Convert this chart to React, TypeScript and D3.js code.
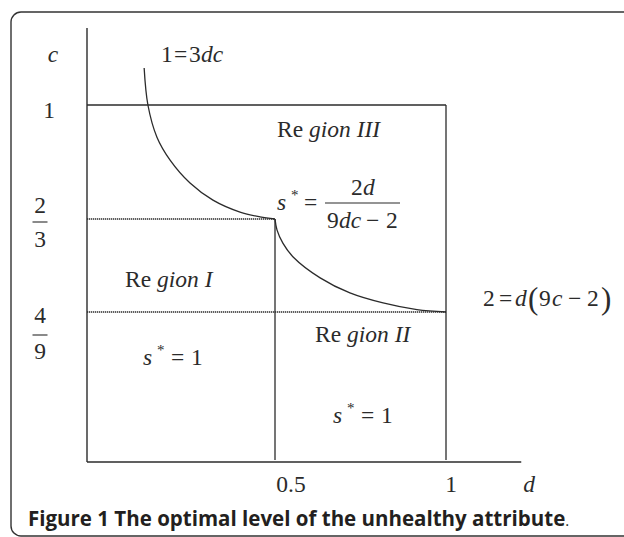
import React, { useRef, useEffect } from "react";
import * as d3 from "d3";

// axis break points (schematic, not to scale)
const dBreaks = [0, 0.5, 1];
const cBreaks = [0, 4 / 9, 2 / 3, 1];
const dMax = 1.22;
const cMax = 1.225;

const xTickLabels = [
  { value: 0.5, label: "0.5" },
  { value: 1, label: "1" },
];

const yTickLabels = [
  { value: 1, num: "1", den: "" },
  { value: 2 / 3, num: "2", den: "3" },
  { value: 4 / 9, num: "4", den: "9" },
];

// 1 = 3dc boundary
const curveUpper = [
  { d: 0.152, c: 1.108 },
  { d: 0.162, c: 1.0 },
  { d: 0.186, c: 0.906 },
  { d: 0.221, c: 0.839 },
  { d: 0.274, c: 0.772 },
  { d: 0.335, c: 0.722 },
  { d: 0.407, c: 0.687 },
  { d: 0.46, c: 0.673 },
  { d: 0.5, c: 0.6667 },
];

// 2 = d(9c - 2) boundary
const curveLower = [
  { d: 0.5, c: 0.6667 },
  { d: 0.506, c: 0.64 },
  { d: 0.523, c: 0.609 },
  { d: 0.553, c: 0.576 },
  { d: 0.632, c: 0.526 },
  { d: 0.719, c: 0.49 },
  { d: 0.816, c: 0.466 },
  { d: 0.915, c: 0.45 },
  { d: 1.0, c: 0.4444 },
];

const ink = "#2b2b2b";
const serif = "'Liberation Serif', 'Times New Roman', serif";
const fs = 23.5;

const App = () => {
  const ref = useRef<SVGSVGElement>(null);

  useEffect(() => {
    const svg = d3.select(ref.current);
    svg.selectAll("*").remove();

    const x = d3.scaleLinear().domain(dBreaks).range([87, 275, 446]);
    const y = d3.scaleLinear().domain(cBreaks).range([462, 312, 219, 105]);

    // frame (right side runs off the picture)
    svg.append("rect")
      .attr("x", 11).attr("y", 12)
      .attr("width", 700).attr("height", 524)
      .attr("rx", 10)
      .attr("fill", "white")
      .attr("stroke", "#333")
      .attr("stroke-width", 1.4);

    const g = svg.append("g").attr("stroke", ink).attr("fill", "none");

    // axes
    g.append("line")
      .attr("x1", x(0)).attr("x2", x(0))
      .attr("y1", y(0)).attr("y2", y(cMax))
      .attr("stroke-width", 1.4);
    g.append("line")
      .attr("x1", x(0)).attr("x2", x(dMax))
      .attr("y1", y(0)).attr("y2", y(0))
      .attr("stroke-width", 1.4);

    // c = 1 and d = 1 box edges
    g.append("line")
      .attr("x1", x(0)).attr("x2", x(1))
      .attr("y1", y(1)).attr("y2", y(1))
      .attr("stroke-width", 1.3);
    g.append("line")
      .attr("x1", x(1)).attr("x2", x(1))
      .attr("y1", y(1)).attr("y2", y(0) - 2)
      .attr("stroke-width", 1.3);
    g.append("line")
      .attr("x1", x(0.5)).attr("x2", x(0.5))
      .attr("y1", y(2 / 3)).attr("y2", y(0) - 2)
      .attr("stroke-width", 1.3);

    // dotted levels
    g.append("line")
      .attr("x1", x(0)).attr("x2", x(0.5))
      .attr("y1", y(2 / 3)).attr("y2", y(2 / 3))
      .attr("stroke-width", 1.7)
      .attr("stroke-dasharray", "1.3 0.7");
    g.append("line")
      .attr("x1", x(0)).attr("x2", x(1))
      .attr("y1", y(4 / 9)).attr("y2", y(4 / 9))
      .attr("stroke-width", 1.7)
      .attr("stroke-dasharray", "1.3 0.7");

    const line = d3.line<{ d: number; c: number }>()
      .x(p => x(p.d))
      .y(p => y(p.c))
      .curve(d3.curveCatmullRom);

    [curveUpper, curveLower].forEach(pts => {
      g.append("path")
        .attr("d", line(pts))
        .attr("stroke-width", 1.3);
    });

    const t = svg.append("g")
      .attr("font-family", serif)
      .attr("font-size", fs)
      .attr("fill", ink);

    // x tick labels
    t.selectAll("text.xt")
      .data(xTickLabels)
      .join("text")
      .attr("class", "xt")
      .attr("x", d => x(d.value) + (d.value === 0.5 ? 16 : 5))
      .attr("y", 492)
      .attr("text-anchor", "middle")
      .text(d => d.label);

    // y tick labels (numerator baseline, bar, denominator baseline offsets)
    const yOff: Record<string, number[]> = {
      "1": [13, 0, 0],
      "2": [-6, 3, 28],
      "4": [11, 23, 47],
    };
    yTickLabels.forEach(tk => {
      const cy = y(tk.value);
      const [n, b, dn] = yOff[tk.num];
      const cx = tk.den ? 40 : 49;
      t.append("text")
        .attr("x", cx).attr("y", cy + n)
        .attr("text-anchor", "middle")
        .text(tk.num);
      if (tk.den) {
        t.append("line")
          .attr("x1", cx - 7.5).attr("x2", cx + 7.5)
          .attr("y1", cy + b).attr("y2", cy + b)
          .attr("stroke", ink).attr("stroke-width", 1.1);
        t.append("text")
          .attr("x", cx).attr("y", cy + dn)
          .attr("text-anchor", "middle")
          .text(tk.den);
      }
    });

    // axis names
    t.append("text").attr("x", 53).attr("y", 62)
      .attr("text-anchor", "middle").attr("font-style", "italic").text("c");
    t.append("text").attr("x", 529).attr("y", 492)
      .attr("text-anchor", "middle").attr("font-style", "italic").text("d");

    // helper: a run of glyphs with absolute x positions
    const run = (py: number, parts: [number, string, boolean?, number?, number?][]) => {
      const el = t.append("text").attr("y", py);
      parts.forEach(([px, s, it, size, dy]) => {
        const sp = el.append("tspan").attr("x", px).attr("y", py + (dy || 0)).text(s);
        if (it) sp.attr("font-style", "italic");
        if (size) sp.attr("font-size", size);
      });
    };

    // 1 = 3dc
    run(62, [[161, "1"], [174, "="], [189, "3"], [201, "dc", true]]);

    // region labels
    const region = (px: number, py: number, num: string) => {
      const r = t.append("text").attr("x", px).attr("y", py);
      r.append("tspan").text("Re ");
      r.append("tspan").attr("font-style", "italic").text("gion " + num);
    };
    region(277, 137, "III");
    region(125, 287, "I");
    region(315, 342, "II");

    // s* = 1
    const sOne = (px: number, py: number) => {
      run(py, [
        [px, "s", true],
        [px + 14, "*", false, 15, -10],
        [px + 28, "="],
        [px + 48, "1"],
      ]);
    };
    sOne(143, 365);
    sOne(333, 423);

    // s* = 2d / (9dc - 2)
    run(210, [
      [277, "s", true],
      [291, "*", false, 15, -10],
      [304, "="],
    ]);
    t.append("line")
      .attr("x1", 325).attr("x2", 400)
      .attr("y1", 203).attr("y2", 203)
      .attr("stroke", ink).attr("stroke-width", 1.1);
    run(195, [[351, "2"], [363, "d", true]]);
    run(228, [[327, "9"], [339, "dc", true], [366, "\u2212"], [386, "2"]]);

    // 2 = d(9c - 2)
    run(306, [
      [483, "2"],
      [499, "="],
      [515, "d", true],
      [528, "(", false, 31, 3],
      [539, "9"],
      [552, "c", true],
      [568, "\u2212"],
      [587, "2"],
      [601, ")", false, 31, 3],
    ]);

    // caption
    const cap = svg.append("text")
      .attr("x", 28).attr("y", 526)
      .attr("font-family", "'Open Sans', 'Noto Sans', sans-serif")
      .attr("font-size", 20.5)
      .attr("fill", "#231f20");
    cap.append("tspan").attr("font-weight", "bold").text("Figure 1 The optimal level of the unhealthy attribute");
    cap.append("tspan").attr("font-size", 15).text(".");
  }, []);

  return (
    <div>
      <svg
        ref={ref}
        width={624}
        height={537}
        style={{ position: "absolute", left: 0, top: 0, background: "white" }}
      />
    </div>
  );
};

export default App;
